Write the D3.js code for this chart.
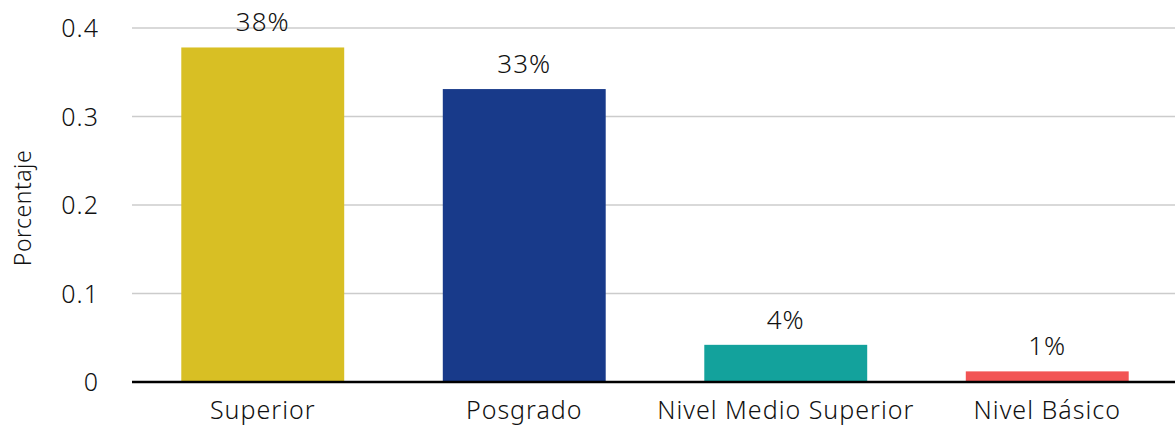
<!DOCTYPE html>
<html>
<head>
<meta charset="utf-8">
<script src="https://cdn.jsdelivr.net/npm/d3@7"></script>
<style>
  body { margin: 0; background: #fff; }
  text { font-family: "Noto Sans", Lato, sans-serif; font-weight: 300; fill: #111; }
</style>
</head>
<body>
<svg id="chart" width="1175" height="436"></svg>
<script>
var categories = ["Superior", "Posgrado", "Nivel Medio Superior", "Nivel Básico"];
var values = [0.378, 0.331, 0.042, 0.012];
var valueLabels = ["38%", "33%", "4%", "1%"];
var colors = ["#d8bf24", "#183a8a", "#13a29c", "#f25454"];
var yTicks = [0, 0.1, 0.2, 0.3, 0.4];

var svg = d3.select("#chart"),
    margin = {top: 28, right: 0, bottom: 54, left: 132},
    width = 1175 - margin.left - margin.right,
    height = 436 - margin.top - margin.bottom;

var g = svg.append("g").attr("transform", `translate(${margin.left},${margin.top})`);

var x = d3.scaleBand().domain(categories).range([0, width + 3]).paddingInner(0.377).paddingOuter(0.377 / 2);
var y = d3.scaleLinear().domain([0, 0.4]).range([height, 0]);

//
// gridlines
g.selectAll("line.grid").data(yTicks.filter(d => d > 0)).enter().append("line")
  .attr("class", "grid")
  .attr("x1", 0).attr("x2", width)
  .attr("y1", d => y(d)).attr("y2", d => y(d))
  .attr("stroke", "#cccccc").attr("stroke-width", 1.3);

//
// y axis
var yAxis = g.append("g").call(d3.axisLeft(y).tickValues(yTicks).tickFormat(d => d === 0 ? "0" : d3.format(".1f")(d)).tickSize(0).tickPadding(33));
yAxis.select(".domain").remove();
yAxis.selectAll("text").style("font-size", "25px").style("letter-spacing", "1px").attr("dy", "0.35em");

//
// bars
g.selectAll("rect.bar").data(values).enter().append("rect")
  .attr("class", "bar")
  .attr("x", (d, i) => x(categories[i]))
  .attr("width", x.bandwidth())
  .attr("y", d => y(d))
  .attr("height", d => height - y(d))
  .attr("fill", (d, i) => colors[i]);

//
// value labels
g.selectAll("text.val").data(values).enter().append("text")
  .attr("class", "val")
  .attr("x", (d, i) => x(categories[i]) + x.bandwidth() / 2)
  .attr("y", d => y(d) - 16)
  .attr("text-anchor", "middle")
  .style("font-size", "26px")
  .style("letter-spacing", "1px")
  .text((d, i) => valueLabels[i]);

//
// baseline
g.append("line")
  .attr("x1", 0).attr("x2", width)
  .attr("y1", height).attr("y2", height)
  .attr("stroke", "#000").attr("stroke-width", 2.5);

//
// x axis labels
var xAxis = g.append("g").attr("transform", `translate(0,${height})`)
  .call(d3.axisBottom(x).tickSize(0).tickPadding(19));
xAxis.select(".domain").remove();
xAxis.selectAll("text").style("font-size", "25px").style("letter-spacing", "1px").attr("dy", "0.71em");

//
// y title
svg.append("text")
  .attr("transform", "translate(31,208) rotate(-90)")
  .attr("text-anchor", "middle")
  .style("font-size", "23px")
  .style("letter-spacing", "0.5px")
  .text("Porcentaje");
</script>
</body>
</html>
